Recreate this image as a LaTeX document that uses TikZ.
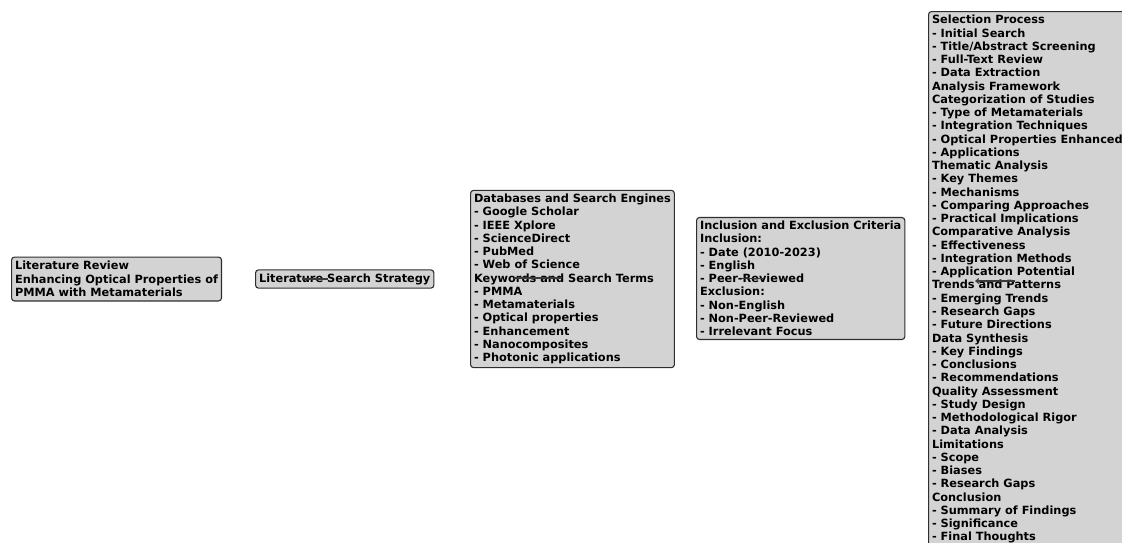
\documentclass[tikz,border=0pt]{standalone}
\usepackage{fontspec}
\setmainfont{DejaVu Sans}
\usetikzlibrary{calc,arrows.meta}
\definecolor{boxfill}{HTML}{D3D3D3}
\definecolor{boxline}{HTML}{2E2E2E}
\definecolor{edgecol}{HTML}{3A3A3A}
\tikzset{
  topic/.style={draw=boxline, fill=boxfill, line width=1.1pt, rounded corners=3pt,
    align=left, inner xsep=3.5pt, inner ysep=3.6pt,
    font=\fontsize{11.33}{13.26}\selectfont\bfseries, text=black},
  link/.style={draw=edgecol, line width=1.1pt},
  linkarrow/.style={link, -{Straight Barb[length=3pt,width=5pt]}}
}
\begin{document}
\begin{tikzpicture}[x=1pt,y=-1pt]
\useasboundingbox (0,0) rectangle (1122,542);
\clip (0,0) rectangle (1122,542);
\node[topic, anchor=west, inner ysep=4.3pt] (review) at (11,279) {Literature Review\\Enhancing Optical Properties of\\PMMA with Metamaterials};
\node[topic, anchor=west] (strategy) at (255,279) {Literature Search Strategy};
\node[topic, anchor=west] (databases) at (470,279) {Databases and Search Engines\\- Google Scholar\\- IEEE Xplore\\- ScienceDirect\\- PubMed\\- Web of Science\\Keywords and Search Terms\\- PMMA\\- Metamaterials\\- Optical properties\\- Enhancement\\- Nanocomposites\\- Photonic applications};
\node[topic, anchor=west] (criteria) at (696,278.5) {Inclusion and Exclusion Criteria\\Inclusion:\\- Date (2010-2023)\\- English\\- Peer-Reviewed\\Exclusion:\\- Non-English\\- Non-Peer-Reviewed\\- Irrelevant Focus};
\node[topic, anchor=north west] (selection) at (928,11) {Selection Process\\- Initial Search\\- Title/Abstract Screening\\- Full-Text Review\\- Data Extraction\\Analysis Framework\\Categorization of Studies\\- Type of Metamaterials\\- Integration Techniques\\- Optical Properties Enhanced\\- Applications\\Thematic Analysis\\- Key Themes\\- Mechanisms\\- Comparing Approaches\\- Practical Implications\\Comparative Analysis\\- Effectiveness\\- Integration Methods\\- Application Potential\\Trends and Patterns\\- Emerging Trends\\- Research Gaps\\- Future Directions\\Data Synthesis\\- Key Findings\\- Conclusions\\- Recommendations\\Quality Assessment\\- Study Design\\- Methodological Rigor\\- Data Analysis\\Limitations\\- Scope\\- Biases\\- Research Gaps\\Conclusion\\- Summary of Findings\\- Significance\\- Final Thoughts};
% visible end segments of the connectors
\coordinate (e1a) at ($(strategy.west)+(47,0)$);
\coordinate (e1b) at ($(strategy.west)+(73,0)$);
\draw[link] (e1a) -- (e1b);
\coordinate (e2a) at ($(databases.west)+(44,-1)$);
\coordinate (e2b) at ($(databases.west)+(92,-1)$);
\draw[link] (e2a) -- (e2b);
\coordinate (e3a) at ($(criteria.west)+(46,0)$);
\coordinate (e3b) at ($(criteria.west)+(68,0)$);
\draw[link] (e3a) -- (e3b);
\coordinate (e4a) at (1015,281);
\coordinate (e4b) at (975,281);
\draw[linkarrow] (e4a) -- (e4b);
\end{tikzpicture}
\end{document}
